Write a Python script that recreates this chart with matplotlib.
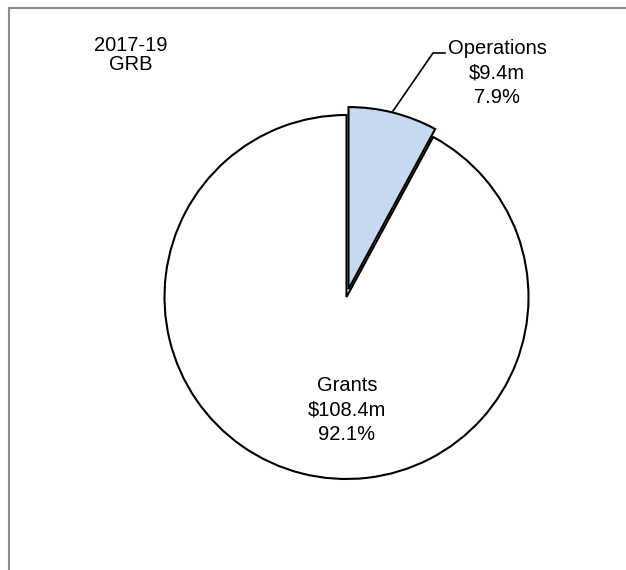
import matplotlib
matplotlib.use("Agg")
import matplotlib.pyplot as plt
from matplotlib.patches import Rectangle

plt.rcParams['font.family'] = ['Liberation Sans', 'DejaVu Sans']

# budget split, 2017-19 GRB
categories = ["Operations", "Grants"]
amounts = [9.4, 108.4]      # $ millions
shares = [7.9, 92.1]        # percent of total
colors = ["#c6d9f1", "#ffffff"]

W, H = 626, 570
fig = plt.figure(figsize=(W / 100, H / 100), dpi=100)
ax = fig.add_axes([0, 0, 1, 1])

# pie drawn in pixel-like data units so it sits where we want it
cx, cy, r = 346.5, H - 297, 182
# explode is an absolute offset in data units, so scale it by the radius
wedges, _ = ax.pie(shares, colors=colors, startangle=90, counterclock=False,
                   explode=[0.045 * r, 0], radius=r, center=(cx, cy),
                   wedgeprops=dict(edgecolor="black", linewidth=1.5))
ax.set_xlim(0, W)
ax.set_ylim(0, H)
ax.set_aspect("equal")
ax.axis("off")

fs = 14.5
ax.text(131, H - 55, "2017-19\nGRB", ha="center", va="center", fontsize=fs,
        linespacing=1.0)

labels = [f"{c}\n${a}m\n{s}%" for c, a, s in zip(categories, amounts, shares)]

# Operations label with leader line
ax.text(497, H - 73, labels[0], ha="center", va="center", fontsize=fs,
        linespacing=1.36)
ax.plot([445, 433, 393], [H - 53, H - 53, H - 111], color="black", lw=1.2)

# Grants label inside its slice
ax.text(347, H - 410, labels[1], ha="center", va="center", fontsize=fs,
        linespacing=1.36)

# chart-area border (only the left and top edges fall inside the image)
fig.patches.append(Rectangle((8.5 / W, -0.1), 2.0, (H - 7.5) / H + 0.1,
                             transform=fig.transFigure, fill=False,
                             edgecolor="#8c8c8c", linewidth=1.5))

fig.savefig("out.png", dpi=100)
